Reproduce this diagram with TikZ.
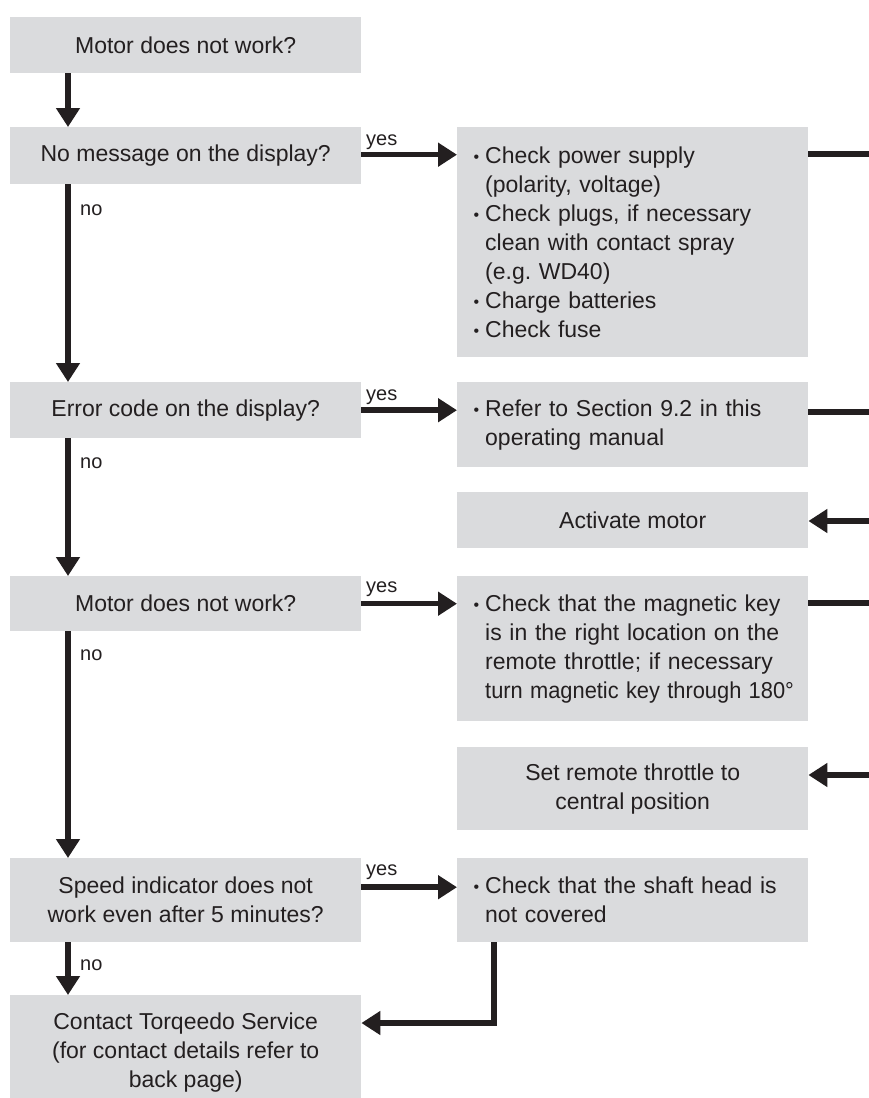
\documentclass[tikz,border=0pt]{standalone}
\usepackage{graphicx}
\usepackage{fontspec}
\setmainfont{Liberation Sans}
\usetikzlibrary{arrows.meta}
\definecolor{boxgray}{RGB}{218,219,221}
\definecolor{ink}{RGB}{35,31,32}
\newcommand{\bul}{\makebox[24pt][r]{\raisebox{1pt}{\fontsize{16}{16}\selectfont •}\hspace{6pt}}}
\newcommand{\ind}{\hspace*{24pt}}
\frenchspacing
\begin{document}
\begin{tikzpicture}[x=1pt,y=-1pt,
  box/.style={fill=boxgray, draw=none, anchor=north west, inner sep=0pt,
    font=\fontsize{23}{29}\selectfont\frenchspacing, text=ink, minimum width=351pt},
  leftbox/.style={box, align=center},
  rightbox/.style={box, align=left, text width=343pt},
  lbl/.style={font=\fontsize{20}{20}\selectfont, text=ink, inner sep=0pt},
  conn/.style={draw=ink, line width=5.5pt},
  arr/.style={conn, -{Triangle[length=19pt,width=23pt]}}
]
\useasboundingbox (0,0) rectangle (869,1098);
\fill[white] (0,0) rectangle (869,1098);
\begin{scope}
\clip (0,0) rectangle (869,1098);
% left column
\node[leftbox, minimum height=56pt] (a) at (10,17) {Motor does not work?};
\node[leftbox, minimum height=57pt] (b) at (10,127) {No message on the display?};
\node[leftbox, minimum height=56pt] (d) at (10,382) {Error code on the display?};
\node[leftbox, minimum height=55pt] (m) at (10,576) {Motor does not work?};
\node[leftbox, minimum height=84pt] (e) at (10,858) {Speed indicator does not\\work even after 5 minutes?};
\node[leftbox, minimum height=115pt] (g) at (10,995) {Contact Torqeedo Service\\(for contact details refer to\\back page)};
% right column
\node[rightbox, minimum height=230pt] (c) at (457,127) {\bul Check power supply\\\ind(polarity, voltage)\\\bul Check plugs, if necessary\\\ind clean with contact spray\\\ind(e.g. WD40)\\\bul Charge batteries\\\bul Check fuse};
\node[rightbox, minimum height=85pt] (r) at (457,382) {\bul Refer to Section 9.2 in this\\\ind operating manual};
\node[box, align=center, minimum height=56pt] (act) at (457,492) {Activate motor};
\node[rightbox, minimum height=145pt] (k) at (457,576) {\bul Check that the magnetic key\\\ind is in the right location on the\\\ind remote throttle; if necessary\\\ind\scalebox{0.95}[1]{turn magnetic key through 180°}};
\node[box, align=center, minimum height=83pt] (s) at (457,747) {Set remote throttle to\\central position};
\node[rightbox, minimum height=84pt] (f) at (457,858) {\bul Check that the shaft head is\\\ind not covered};
% free ends at the right edge
\coordinate (o1) at (869,154);
\coordinate (o2) at (869,412);
\coordinate (o3) at (869,521);
\coordinate (o4) at (869,603);
\coordinate (o5) at (869,775);
\coordinate (bend) at (494,1023);
% vertical arrows
\draw[arr] ([xshift=58pt]a.south west) -- ([xshift=58pt]b.north west);
\draw[arr] ([xshift=58pt]b.south west) -- ([xshift=58pt]d.north west);
\draw[arr] ([xshift=58pt]d.south west) -- ([xshift=58pt]m.north west);
\draw[arr] ([xshift=58pt]m.south west) -- ([xshift=58pt]e.north west);
\draw[arr] ([xshift=58pt]e.south west) -- ([xshift=58pt]g.north west);
% yes arrows
\draw[arr] ([yshift=1pt]b.east) -- ([yshift=1pt]b.east -| c.west);
\draw[arr] (d.east) -- (d.east -| r.west);
\draw[arr] (m.east) -- (m.east -| k.west);
\draw[arr] ([yshift=13pt]e.east) -- ([yshift=13pt]e.east -| f.west);
% right edge lines
\draw[conn] (o1 -| c.east) -- (o1);
\draw[conn] (o2 -| r.east) -- (o2);
\draw[arr] (o3) -- (o3 -| act.east);
\draw[conn] (o4 -| k.east) -- (o4);
\draw[arr] (o5) -- (o5 -| s.east);
% shaft -> contact
\draw[arr] (f.south -| bend) -- (bend) -- (bend -| g.east);
% labels
\node[lbl, anchor=south west] (y1) at (366,150) {yes};
\node[lbl, anchor=south west] (y2) at (366,405) {yes};
\node[lbl, anchor=south west] (y3) at (366,597) {yes};
\node[lbl, anchor=south west] (y4) at (366,880) {yes};
\node[lbl, anchor=west] (n1) at (80,210) {no};
\node[lbl, anchor=west] (n2) at (80,463) {no};
\node[lbl, anchor=west] (n3) at (80,655) {no};
\node[lbl, anchor=west] (n4) at (80,965) {no};
\end{scope}
\end{tikzpicture}
\end{document}
